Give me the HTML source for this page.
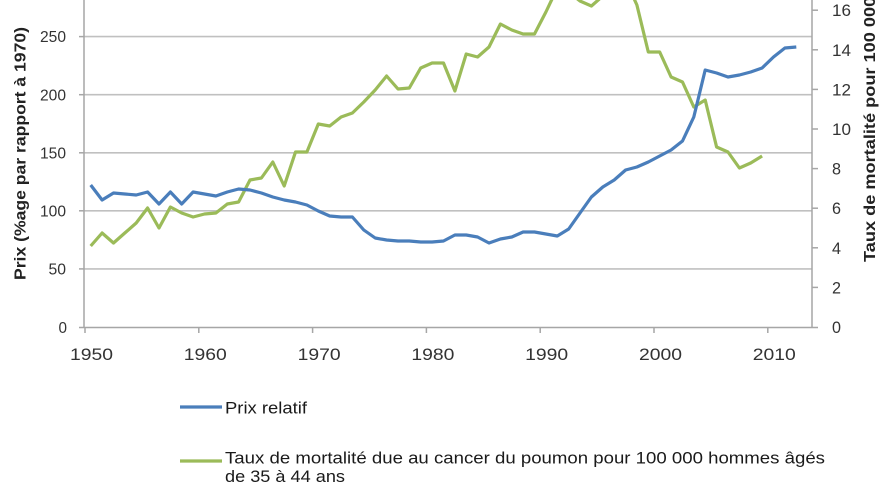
<!DOCTYPE html>
<html>
<head>
<meta charset="utf-8">
<style>
html,body{margin:0;padding:0;background:#fff;}
svg{display:block;}
text{font-family:"Liberation Sans",Arial,sans-serif;}
</style>
</head>
<body>
<svg width="885" height="500" viewBox="0 0 885 500" xmlns="http://www.w3.org/2000/svg">
<rect width="885" height="500" fill="#fff"/>
<!-- gridlines -->
<g stroke="#c0c0c0" stroke-width="1.6">
<line x1="84" y1="36.6" x2="812" y2="36.6"/>
<line x1="84" y1="94.7" x2="812" y2="94.7"/>
<line x1="84" y1="152.8" x2="812" y2="152.8"/>
<line x1="84" y1="210.8" x2="812" y2="210.8"/>
<line x1="84" y1="268.9" x2="812" y2="268.9"/>
</g>
<!-- axes -->
<g stroke="#a6a6a6" stroke-width="1.5" fill="none">
<line x1="84" y1="0" x2="84" y2="327.5"/>
<line x1="812" y1="0" x2="812" y2="327.5"/>
<line x1="79" y1="327.5" x2="818" y2="327.5"/>
<!-- left ticks -->
<line x1="79" y1="36.6" x2="84" y2="36.6"/>
<line x1="79" y1="94.7" x2="84" y2="94.7"/>
<line x1="79" y1="152.8" x2="84" y2="152.8"/>
<line x1="79" y1="210.8" x2="84" y2="210.8"/>
<line x1="79" y1="268.9" x2="84" y2="268.9"/>
<!-- right ticks -->
<line x1="812" y1="10.2" x2="818" y2="10.2"/>
<line x1="812" y1="49.8" x2="818" y2="49.8"/>
<line x1="812" y1="89.4" x2="818" y2="89.4"/>
<line x1="812" y1="129" x2="818" y2="129"/>
<line x1="812" y1="168.6" x2="818" y2="168.6"/>
<line x1="812" y1="208.2" x2="818" y2="208.2"/>
<line x1="812" y1="247.8" x2="818" y2="247.8"/>
<line x1="812" y1="287.4" x2="818" y2="287.4"/>
<!-- x ticks -->
<line x1="85" y1="327.5" x2="85" y2="333"/>
<line x1="198.8" y1="327.5" x2="198.8" y2="333"/>
<line x1="312.6" y1="327.5" x2="312.6" y2="333"/>
<line x1="426.4" y1="327.5" x2="426.4" y2="333"/>
<line x1="540.2" y1="327.5" x2="540.2" y2="333"/>
<line x1="654" y1="327.5" x2="654" y2="333"/>
<line x1="767.8" y1="327.5" x2="767.8" y2="333"/>
</g>
<!-- left tick labels -->
<g fill="#333" font-size="15.5" text-anchor="end">
<text x="66" y="42.2" textLength="26" lengthAdjust="spacingAndGlyphs">250</text>
<text x="66" y="100.3" textLength="26" lengthAdjust="spacingAndGlyphs">200</text>
<text x="66" y="158.4" textLength="26" lengthAdjust="spacingAndGlyphs">150</text>
<text x="66" y="216.4" textLength="26" lengthAdjust="spacingAndGlyphs">100</text>
<text x="66" y="274.5" textLength="17.5" lengthAdjust="spacingAndGlyphs">50</text>
<text x="67" y="333" textLength="8.5" lengthAdjust="spacingAndGlyphs">0</text>
</g>
<!-- right tick labels -->
<g fill="#333" font-size="16.5">
<text x="832" y="16.2" textLength="19" lengthAdjust="spacingAndGlyphs">16</text>
<text x="832" y="55.8" textLength="19" lengthAdjust="spacingAndGlyphs">14</text>
<text x="832" y="95.4" textLength="19" lengthAdjust="spacingAndGlyphs">12</text>
<text x="832" y="135" textLength="19" lengthAdjust="spacingAndGlyphs">10</text>
<text x="832" y="174.6" textLength="9" lengthAdjust="spacingAndGlyphs">8</text>
<text x="832" y="214.2" textLength="9" lengthAdjust="spacingAndGlyphs">6</text>
<text x="832" y="253.8" textLength="9" lengthAdjust="spacingAndGlyphs">4</text>
<text x="832" y="293.4" textLength="9" lengthAdjust="spacingAndGlyphs">2</text>
<text x="832" y="333" textLength="9" lengthAdjust="spacingAndGlyphs">0</text>
</g>
<!-- x labels -->
<g fill="#333" font-size="17" text-anchor="middle">
<text x="91.5" y="360" textLength="43" lengthAdjust="spacingAndGlyphs">1950</text>
<text x="205.3" y="360" textLength="43" lengthAdjust="spacingAndGlyphs">1960</text>
<text x="319.1" y="360" textLength="43" lengthAdjust="spacingAndGlyphs">1970</text>
<text x="432.9" y="360" textLength="43" lengthAdjust="spacingAndGlyphs">1980</text>
<text x="546.7" y="360" textLength="43" lengthAdjust="spacingAndGlyphs">1990</text>
<text x="660.5" y="360" textLength="43" lengthAdjust="spacingAndGlyphs">2000</text>
<text x="774.3" y="360" textLength="43" lengthAdjust="spacingAndGlyphs">2010</text>
</g>
<!-- axis titles -->
<text transform="translate(25.5,153.5) rotate(-90)" text-anchor="middle" font-size="15.5" font-weight="bold" fill="#222" textLength="253" lengthAdjust="spacingAndGlyphs">Prix (%age par rapport à 1970)</text>
<text transform="translate(875,262) rotate(-90)" font-size="15.5" font-weight="bold" fill="#222" textLength="345" lengthAdjust="spacingAndGlyphs">Taux de mortalité pour 100 000 hommes</text>
<!-- series -->
<polyline fill="none" stroke="#9bbb59" stroke-width="3.2" stroke-linejoin="round" points="90.7,246 102.1,233 113.5,243 124.8,233 136.2,223 147.6,208 159,228 170.4,207 181.7,213 193.1,217 204.5,214 215.9,213 227.3,204 238.6,202 250,180 261.4,178 272.8,162 284.2,186 295.5,152 306.9,152 318.3,124 329.7,126 341.1,117 352.4,113 363.8,102 375.2,90 386.6,76 398,89 409.3,88 420.7,68 432.1,63 443.5,63 454.9,91 466.2,54 477.6,57 489,47 500.4,24 511.8,30 523.1,34 534.5,34 545.9,12 557.3,-12 568.7,-8 580,1 591.4,6 602.8,-4 614.2,-15 625.6,-20 636.9,5 648.3,52 659.7,52 671.1,77 682.5,82 693.8,107 705.2,100 716.6,147 728,152 739.4,168 750.7,163 762.1,156"/>
<polyline fill="none" stroke="#4a7ebb" stroke-width="3.2" stroke-linejoin="round" points="90.7,185 102.1,200 113.5,193 124.8,194 136.2,195 147.6,192 159,204 170.4,192 181.7,204 193.1,192 204.5,194 215.9,196 227.3,192 238.6,189 250,190 261.4,193 272.8,197 284.2,200 295.5,202 306.9,205 318.3,211 329.7,216 341.1,217 352.4,217 363.8,230 375.2,238 386.6,240 398,241 409.3,241 420.7,242 432.1,242 443.5,241 454.9,235 466.2,235 477.6,237 489,243 500.4,239 511.8,237 523.1,232 534.5,232 545.9,234 557.3,236 568.7,229 580,213 591.4,197 602.8,187 614.2,180 625.6,170 636.9,167 648.3,162 659.7,156 671.1,150 682.5,141 693.8,117 705.2,70 716.6,73 728,77 739.4,75 750.7,72 762.1,68 773.5,57 784.9,48 796.3,47"/>
<!-- legend -->
<line x1="180" y1="407" x2="222" y2="407" stroke="#4a7ebb" stroke-width="3.2"/>
<line x1="180" y1="461" x2="222" y2="461" stroke="#9bbb59" stroke-width="3.2"/>
<g fill="#1a1a1a" font-size="16.5">
<text x="225" y="413.3" textLength="82" lengthAdjust="spacingAndGlyphs">Prix relatif</text>
<text x="225" y="463.3" textLength="600" lengthAdjust="spacingAndGlyphs">Taux de mortalité due au cancer du poumon pour 100 000 hommes âgés</text>
<text x="225" y="482" textLength="120" lengthAdjust="spacingAndGlyphs">de 35 à 44 ans</text>
</g>
</svg>
</body>
</html>
